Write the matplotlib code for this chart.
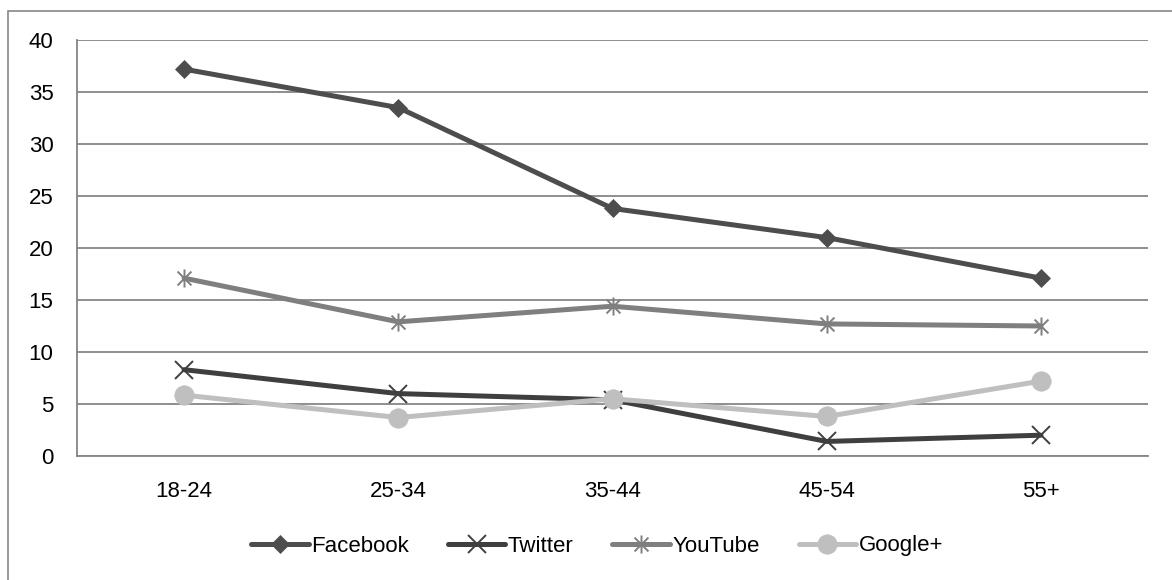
import matplotlib
matplotlib.use("Agg")
import matplotlib.pyplot as plt
from matplotlib.patches import Rectangle
from matplotlib.path import Path

categories = ["18-24", "25-34", "35-44", "45-54", "55+"]
facebook = [37.2, 33.5, 23.8, 21.0, 17.1]
twitter = [8.3, 6.0, 5.4, 1.4, 2.0]
youtube = [17.1, 12.9, 14.4, 12.7, 12.5]
googleplus = [5.85, 3.7, 5.5, 3.8, 7.2]
yticks = [0, 5, 10, 15, 20, 25, 30, 35, 40]

plt.rcParams['font.family'] = ['Liberation Sans', 'DejaVu Sans']

# asterisk marker: X plus vertical bar
star = Path([(-1, -1), (1, 1), (-1, 1), (1, -1), (0, -1.3), (0, 1.3)],
            [Path.MOVETO, Path.LINETO, Path.MOVETO, Path.LINETO, Path.MOVETO, Path.LINETO])

fig = plt.figure(figsize=(11.72, 5.8), dpi=100)
W, H = 1172, 580
fig.patches.append(Rectangle((8 / W, -0.01), 1.2, (580 - 11) / H + 0.01, transform=fig.transFigure,
                             fill=False, edgecolor='#868686', linewidth=1.2))
ax = fig.add_axes([77 / W, 1 - 456 / H, (1148 - 77) / W, (456 - 40) / H])

x = range(len(categories))
series = [
    ("Facebook", facebook, '#4d4d4d', 'D', 9, 0.5),
    ("Twitter", twitter, '#3f3f3f', 'x', 13, 1.4),
    ("YouTube", youtube, '#7f7f7f', star, 13, 1.4),
    ("Google+", googleplus, '#bfbfbf', 'o', 14, 0.5),
]
for name, vals, col, mk, ms, mew in series:
    ax.plot(x, vals, color=col, linewidth=3.6, marker=mk, markersize=ms,
            markeredgewidth=mew, markerfacecolor=col, markeredgecolor=col,
            label=name, solid_capstyle='round')

ax.set_xlim(-0.5, 4.5)
ax.set_ylim(0, 40)
ax.set_yticks(yticks)
ax.set_xticks(list(x))
ax.set_xticklabels(categories)
ax.yaxis.grid(True, color='#868686', linewidth=1.3)
ax.set_axisbelow(True)
for s in ['top', 'right']:
    ax.spines[s].set_visible(False)
for s in ['left', 'bottom']:
    ax.spines[s].set_color('#868686')
    ax.spines[s].set_linewidth(1.3)
ax.tick_params(axis='both', length=0, labelsize=16, colors='black')
ax.tick_params(axis='y', pad=17)
ax.tick_params(axis='x', pad=18)

leg = fig.legend(loc='center', bbox_to_anchor=(597 / W, 1 - 546 / H), ncol=4, frameon=False,
                 fontsize=16, handlelength=2.6, handletextpad=0.1, columnspacing=1.75)

fig.savefig("out.png", dpi=100)
